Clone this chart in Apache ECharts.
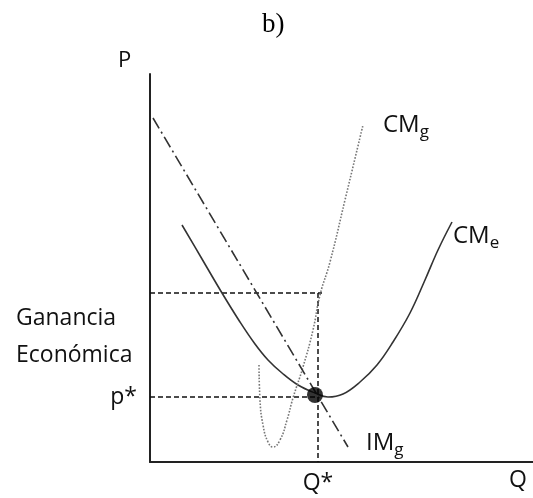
<!DOCTYPE html>
<html>
<head>
<meta charset="utf-8">
<script src="https://cdn.jsdelivr.net/npm/echarts@6/dist/echarts.min.js"></script>
<style>
	html, body { margin: 0; padding: 0; background: #fff; }
	#chart { width: 533px; height: 498px; }
</style>
</head>
<body>
<div id="chart"></div>
<script>
// valores (Q, P)
var cmeData = [[32, 237], [52, 203], [72, 169], [90, 140], [105, 118], [118, 102], [132, 89], [148, 77], [165, 69], [178, 65], [193, 68], [210, 80], [227, 97], [243, 120], [260, 149], [275, 182], [288, 212], [302, 240]];
var cmgData = [[109, 97], [110, 62], [113, 37], [118, 20], [123, 15], [130, 22], [137, 42], [143, 64], [153, 95], [163, 132], [170, 167], [180, 200], [195, 262], [213, 337]];
var imgData = [[3, 344], [198, 15]];
var qStar = 168;
var pStar = 65;
var pTop = 169;
var pTopEnd = 172;
var optimum = [165, 67];

var xTickValues = [qStar];
var xTickLabels = ["Q*"];
var yTickValues = [pStar];
var yTickLabels = ["p*"];

var font = "'Open Sans', 'Noto Sans', sans-serif";
var rich = {
	m: { fontFamily: font, fontSize: 24, color: "#111" },
	s: { fontFamily: font, fontSize: 17, color: "#111", padding: [14, 0, 0, 0] }
};

// etiqueta al final de la curva
function endLabel(name, offset) {
	return {
		show: true,
		distance: 4,
		offset: offset,
		formatter: name,
		rich: rich
	};
}

function dashed(points) {
	return {
		type: "line",
		data: points,
		symbol: "none",
		silent: true,
		lineStyle: { color: "#111", width: 1.5, type: [5, 3] },
		z: 3
	};
}

var chart = echarts.init(document.getElementById("chart"));

var option = {
	animation: false,
	title: {
		text: "b)",
		left: 257,
		top: 6,
		textStyle: {
			fontFamily: "'Liberation Serif', serif",
			fontSize: 27,
			fontWeight: "normal",
			color: "#000"
		}
	},
	grid: {
		left: 150,
		top: 74,
		right: 0,
		bottom: 36
	},
	xAxis: {
		type: "value",
		min: 0,
		max: 383,
		splitLine: { show: false },
		axisTick: { show: false },
		axisLine: { show: true, lineStyle: { color: "#222", width: 2 } },
		axisLabel: {
			show: true,
			customValues: xTickValues,
			margin: 10,
			fontFamily: font,
			fontSize: 23,
			color: "#111",
			formatter: function (v) {
				return xTickLabels[xTickValues.indexOf(v)];
			}
		}
	},
	yAxis: {
		type: "value",
		min: 0,
		max: 388,
		splitLine: { show: false },
		axisTick: { show: false },
		axisLine: { show: true, lineStyle: { color: "#222", width: 2 } },
		axisLabel: {
			show: true,
			customValues: yTickValues,
			margin: 13,
			fontFamily: font,
			fontSize: 23,
			color: "#111",
			formatter: function (v) {
				return yTickLabels[yTickValues.indexOf(v)];
			}
		}
	},
	graphic: [
		{
			type: "text",
			left: 118,
			top: 50,
			style: { text: "P", font: "22px " + font, fill: "#111" }
		},
		{
			type: "text",
			left: 509,
			top: 469,
			style: { text: "Q", font: "23px " + font, fill: "#111" }
		},
		{
			type: "text",
			left: 16,
			top: 300,
			style: { text: "Ganancia\nEconómica", font: "23px " + font, lineHeight: 37, fill: "#111" }
		}
	],
	series: [
		dashed([[0, pTop], [pTopEnd, pTop]]),
		dashed([[qStar, pTop], [qStar, 0]]),
		dashed([[0, pStar], [qStar, pStar]]),
		{
			name: "CMe",
			type: "line",
			smooth: 0.4,
			symbol: "none",
			data: cmeData,
			endLabel: endLabel("{m|CM}{s|e}", [-3, 14]),
			lineStyle: { color: "#333", width: 1.6 },
			z: 4
		},
		{
			name: "CMg",
			type: "line",
			smooth: true,
			symbol: "none",
			data: cmgData,
			endLabel: endLabel("{m|CM}{s|g}", [16, 0]),
			lineStyle: { color: "#777", width: 1.6, type: "dotted" },
			z: 4
		},
		{
			name: "IMg",
			type: "line",
			symbol: "none",
			data: imgData,
			endLabel: endLabel("{m|IM}{s|g}", [14, -4]),
			lineStyle: { color: "#333", width: 1.6, type: [12, 4, 2, 4] },
			z: 4
		},
		{
			type: "scatter",
			data: [optimum],
			symbolSize: 16,
			itemStyle: { color: "#000" },
			z: 6
		}
	]
};

chart.setOption(option);
</script>
</body>
</html>
